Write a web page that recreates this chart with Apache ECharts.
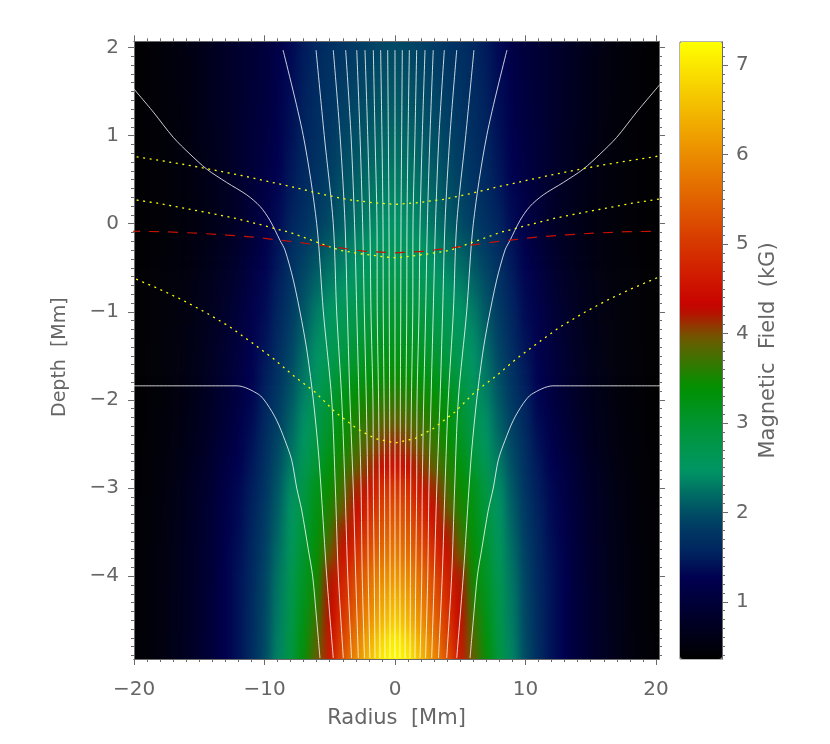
<!DOCTYPE html>
<html>
<head>
<meta charset="utf-8">
<title>Magnetic field</title>
<script src="https://cdn.jsdelivr.net/npm/echarts@6/dist/echarts.min.js"></script>
<style>
  html, body { margin: 0; padding: 0; background: #fff; }
  #main { width: 830px; height: 744px; }
</style>
</head>
<body>
<svg width="0" height="0" style="position:absolute">
  <filter id="soft" x="0" y="0" width="100%" height="100%" color-interpolation-filters="sRGB">
    <feGaussianBlur stdDeviation="5 8"></feGaussianBlur>
  </filter>
</svg>
<div id="main"></div>
<script>
// field strength table (kG), one row per depth, r = 0..22 Mm
var heatRadii = [0,1,2,3,4,5,6,7,8,9,10,11,12,13,14,15,16,17,18,19,20,21,22];
var heatDepths = [2.25,2,1.75,1.5,1.25,1,0.75,0.5,0.25,0,-0.25,-0.5,-0.75,-1,-1.25,-1.5,-1.75,-2,-2.25,-2.5,-2.75,-3,-3.25,-3.5,-3.75,-4,-4.25,-4.5,-4.75,-5,-5.25];
var heatRows = [
  [1.93,1.91,1.86,1.8,1.74,1.67,1.58,1.46,1.32,1.15,1.03,.94,.86,.78,.7,.63,.55,.49,.45,.41,.38,.37,.36],
  [1.95,1.93,1.88,1.82,1.76,1.69,1.6,1.48,1.33,1.16,1.04,.95,.87,.79,.7,.63,.55,.49,.45,.41,.38,.37,.36],
  [1.99,1.97,1.92,1.86,1.79,1.71,1.62,1.5,1.35,1.18,1.05,.95,.87,.79,.7,.62,.54,.49,.44,.41,.38,.37,.36],
  [2.04,2.02,1.96,1.9,1.83,1.74,1.64,1.52,1.37,1.2,1.06,.96,.87,.78,.69,.62,.54,.48,.44,.41,.38,.37,.36],
  [2.1,2.07,2.01,1.94,1.86,1.77,1.66,1.54,1.38,1.21,1.07,.97,.87,.78,.69,.61,.53,.48,.44,.41,.38,.37,.36],
  [2.17,2.14,2.07,1.99,1.9,1.8,1.68,1.55,1.4,1.23,1.08,.98,.87,.77,.68,.6,.52,.47,.43,.4,.38,.37,.36],
  [2.23,2.2,2.13,2.04,1.94,1.83,1.71,1.58,1.43,1.26,1.1,.99,.87,.77,.67,.59,.52,.47,.43,.4,.38,.37,.36],
  [2.3,2.27,2.2,2.1,1.99,1.87,1.74,1.61,1.46,1.28,1.12,.98,.86,.75,.66,.58,.51,.46,.43,.41,.38,.37,.36],
  [2.37,2.34,2.27,2.16,2.04,1.92,1.79,1.65,1.5,1.32,1.14,.98,.84,.73,.64,.57,.5,.46,.43,.41,.38,.37,.36],
  [2.45,2.42,2.35,2.23,2.1,1.97,1.85,1.7,1.55,1.35,1.15,.98,.82,.72,.63,.56,.5,.46,.43,.41,.38,.37,.36],
  [2.58,2.54,2.47,2.36,2.23,2.1,1.96,1.81,1.65,1.43,1.21,1.03,.86,.75,.65,.57,.51,.47,.43,.41,.38,.37,.36],
  [2.7,2.66,2.58,2.47,2.35,2.22,2.07,1.9,1.7,1.47,1.27,1.09,.9,.78,.67,.59,.52,.47,.44,.41,.38,.37,.36],
  [2.85,2.8,2.72,2.6,2.48,2.35,2.18,1.98,1.75,1.51,1.31,1.15,.95,.81,.7,.6,.53,.48,.44,.41,.38,.37,.36],
  [3,2.95,2.87,2.75,2.63,2.5,2.3,2.05,1.8,1.55,1.35,1.2,1,.85,.72,.62,.54,.48,.44,.41,.38,.37,.36],
  [3.13,3.09,3,2.88,2.74,2.58,2.38,2.12,1.85,1.6,1.39,1.22,1.03,.87,.74,.63,.55,.49,.44,.41,.38,.37,.36],
  [3.28,3.23,3.14,3.02,2.87,2.68,2.45,2.2,1.92,1.66,1.44,1.25,1.06,.9,.76,.65,.56,.49,.45,.42,.38,.37,.36],
  [3.45,3.4,3.31,3.2,3.05,2.82,2.55,2.28,1.98,1.73,1.5,1.27,1.09,.92,.78,.66,.57,.5,.45,.42,.38,.37,.36],
  [3.65,3.6,3.52,3.42,3.25,2.95,2.65,2.35,2.05,1.8,1.55,1.3,1.12,.95,.8,.68,.58,.5,.45,.42,.38,.37,.36],
  [3.88,3.82,3.7,3.55,3.35,3.05,2.75,2.43,2.12,1.86,1.6,1.35,1.17,.99,.83,.7,.6,.52,.46,.42,.38,.37,.36],
  [4.15,4.05,3.88,3.68,3.45,3.15,2.85,2.52,2.2,1.92,1.66,1.41,1.22,1.04,.87,.72,.62,.53,.47,.43,.38,.37,.36],
  [4.55,4.4,4.1,3.85,3.6,3.3,3,2.65,2.3,1.98,1.7,1.46,1.27,1.1,.91,.76,.65,.55,.48,.43,.39,.37,.36],
  [5,4.9,4.5,4.15,3.75,3.45,3.2,2.8,2.4,2.05,1.75,1.5,1.32,1.15,.95,.8,.68,.57,.49,.43,.39,.37,.36],
  [5.3,5.15,4.8,4.4,3.95,3.55,3.27,2.88,2.47,2.1,1.8,1.54,1.35,1.17,.97,.82,.69,.58,.5,.44,.39,.37,.36],
  [5.55,5.4,5.05,4.65,4.2,3.7,3.33,2.95,2.53,2.15,1.83,1.56,1.37,1.2,.98,.83,.7,.59,.5,.44,.39,.37,.36],
  [5.82,5.65,5.3,4.9,4.45,3.95,3.4,3.02,2.58,2.2,1.87,1.58,1.4,1.22,1,.84,.71,.6,.51,.45,.39,.37,.36],
  [6.1,5.95,5.6,5.2,4.7,4.2,3.45,3.1,2.65,2.25,1.9,1.6,1.42,1.25,1,.85,.72,.6,.52,.45,.39,.37,.36],
  [6.4,6.2,5.8,5.35,4.85,4.3,3.55,3.18,2.7,2.28,1.92,1.62,1.42,1.25,1.01,.86,.73,.61,.52,.45,.39,.37,.36],
  [6.7,6.45,6.02,5.55,5,4.38,3.7,3.25,2.75,2.3,1.93,1.63,1.42,1.25,1.01,.86,.73,.61,.52,.45,.39,.37,.36],
  [7.1,6.85,6.35,5.8,5.17,4.47,3.82,3.33,2.8,2.33,1.94,1.64,1.42,1.25,1.02,.87,.74,.62,.53,.46,.4,.37,.36],
  [7.4,7.1,6.55,6,5.35,4.58,3.92,3.42,2.87,2.36,1.96,1.66,1.42,1.25,1.02,.87,.74,.62,.53,.46,.4,.37,.36],
  [7.7,7.35,6.8,6.2,5.5,4.7,4,3.5,2.95,2.4,2,1.68,1.43,1.26,1.03,.88,.75,.63,.54,.46,.4,.37,.36]
];

// colour table of the bar
var cmapValues = [0.36,0.8,1.27,1.57,1.8,2.05,2.47,2.9,3.4,3.95,4.3,5,6,7.26];
var cmapColors = [[0,0,0],[0,0,40],[0,0,80],[0,38,95],[0,55,100],[0,85,100],[0,150,100],[0,150,60],[0,145,0],[110,90,0],[200,0,0],[215,55,0],[235,140,0],[255,255,0]];

// field lines, left half (mirrored for the right half)
var fieldDepths = [1.97,1,0,-1,-2,-3,-4,-4.93];
var fieldRadii = [
  [-8.58,-7.03,-6,-5.49,-4.85,-4.57,-4.34,-3.96],
  [-6.05,-5.42,-4.73,-4.47,-4.08,-3.83,-3.62,-3.33],
  [-4.73,-4.21,-3.83,-3.65,-3.45,-3.2,-3.01,-2.81],
  [-3.78,-3.37,-3.1,-2.93,-2.76,-2.6,-2.51,-2.34],
  [-2.93,-2.68,-2.48,-2.35,-2.2,-2.09,-2.05,-1.92],
  [-2.3,-2.09,-1.92,-1.84,-1.69,-1.66,-1.59,-1.53],
  [-1.66,-1.53,-1.38,-1.36,-1.26,-1.2,-1.18,-1.15],
  [-1.1,-1,-0.92,-0.9,-0.84,-0.8,-0.79,-0.77],
  [-0.56,-0.51,-0.46,-0.44,-0.41,-0.39,-0.38,-0.38],
  [0,0,0,0,0,0,0,0]
];
// the two outer lines
var flatLineR = [-20.3,-12.1,-10.47,-9.83,-9.07,-8.43,-7.92,-7.53,-7.15,-6.64,-6.31,-6,-5.75];
var flatLineZ = [-1.84,-1.84,-1.935,-2.04,-2.23,-2.46,-2.68,-3,-3.25,-3.7,-4,-4.5,-4.93];
var edgeLineR = [-20.3,-18.52,-16.99,-15.71,-14.43,-12.9,-11.36,-10.34,-9.58,-8.81,-8.43,-7.79,-7.15,-6.72,-6.26,-5.88,-5.67,-5.23,-4.73];
var edgeLineZ = [1.58,1.267,0.98,0.79,0.62,0.468,0.327,0.196,0.037,-0.19,-0.3,-0.64,-1.1,-1.47,-2,-2.57,-3,-4,-4.93];

// dotted yellow levels and the dashed red one, left half to r = 0
var yellow1R = [-20.3,-17.87,-15.84,-13.84,-11.8,-9.75,-7.79,-5.75,-3.7,-1.66,0];
var yellow1Z = [0.77,0.714,0.664,0.608,0.548,0.48,0.415,0.34,0.276,0.238,0.219];
var yellow2R = [-20.3,-18.2,-16.2,-14.2,-12.1,-10.1,-8,-6,-4.2,-2.68,-0.64,0];
var yellow2Z = [0.28,0.233,0.177,0.121,0.057,-0.019,-0.102,-0.209,-0.303,-0.34,-0.379,-0.385];
var yellow3R = [-20.3,-18.14,-16.35,-14.43,-12.64,-10.98,-9.32,-7.66,-6.13,-4.6,-2.94,-1.53,0];
var yellow3Z = [-0.6,-0.737,-0.861,-1.014,-1.172,-1.349,-1.531,-1.739,-1.909,-2.136,-2.324,-2.438,-2.488];
var redR = [-20.3,-17.76,-15.2,-12.9,-10.86,-7.79,-4.73,-3.2,-2.3,-0.64,0];
var redZ = [-0.085,-0.091,-0.107,-0.129,-0.152,-0.204,-0.265,-0.295,-0.314,-0.325,-0.33];

// ticks
var xMajor = [-20,-10,0,10,20];
var xMinor = [-19,-18,-17,-16,-15,-14,-13,-12,-11,-9,-8,-7,-6,-5,-4,-3,-2,-1,1,2,3,4,5,6,7,8,9,11,12,13,14,15,16,17,18,19];
var yMajor = [-4,-3,-2,-1,0,1,2];
var yMinor = [-4.9,-4.8,-4.7,-4.6,-4.5,-4.4,-4.3,-4.2,-4.1,-3.9,-3.8,-3.7,-3.6,-3.5,-3.4,-3.3,-3.2,-3.1,-2.9,-2.8,-2.7,-2.6,-2.5,-2.4,-2.3,-2.2,-2.1,-1.9,-1.8,-1.7,-1.6,-1.5,-1.4,-1.3,-1.2,-1.1,-0.9,-0.8,-0.7,-0.6,-0.5,-0.4,-0.3,-0.2,-0.1,0.1,0.2,0.3,0.4,0.5,0.6,0.7,0.8,0.9,1.1,1.2,1.3,1.4,1.5,1.6,1.7,1.8,1.9];
var barMajor = [1,2,3,4,5,6,7];
var barMinor = [0.4,0.5,0.6,0.7,0.8,0.9,1.1,1.2,1.3,1.4,1.5,1.6,1.7,1.8,1.9,2.1,2.2,2.3,2.4,2.5,2.6,2.7,2.8,2.9,3.1,3.2,3.3,3.4,3.5,3.6,3.7,3.8,3.9,4.1,4.2,4.3,4.4,4.5,4.6,4.7,4.8,4.9,5.1,5.2,5.3,5.4,5.5,5.6,5.7,5.8,5.9,6.1,6.2,6.3,6.4,6.5,6.6,6.7,6.8,6.9,7.1,7.2];

var fontName = "'DejaVu Sans ExtraLight', 'DejaVu Sans'";
var lineGray = "#6a6a6a";
var textGray = "#666";

function pairs(rs, zs) {
  return rs.map(function (r, i) { return [r, zs[i]]; });
}
// left half plus its mirror image
function mirrored(rs, zs) {
  var left = pairs(rs, zs);
  var right = left.map(function (p) { return [-p[0], p[1]]; }).reverse();
  return left.concat(right);
}

// full table, both sides of r = 0
var xCats = [];
for (var i = heatRadii.length - 1; i > 0; i--) xCats.push(String(-heatRadii[i]));
heatRadii.forEach(function (r) { xCats.push(String(r)); });
var heatData = [];
heatRows.forEach(function (row, j) {
  for (var k = 0; k < row.length; k++) {
    heatData.push([heatRadii.length - 1 + k, j, row[k]]);
    if (k > 0) heatData.push([heatRadii.length - 1 - k, j, row[k]]);
  }
});

// colormap to evenly spaced stops for visualMap
var cmapMin = cmapValues[0], cmapMax = cmapValues[cmapValues.length - 1];
var evenColors = [];
for (var s = 0; s <= 69; s++) {
  var v = cmapMin + (cmapMax - cmapMin) * s / 69;
  var n = 0;
  while (n < cmapValues.length - 2 && v > cmapValues[n + 1]) n++;
  var t = (v - cmapValues[n]) / (cmapValues[n + 1] - cmapValues[n]);
  var c = [0, 1, 2].map(function (q) {
    return Math.round(cmapColors[n][q] + (cmapColors[n + 1][q] - cmapColors[n][q]) * t);
  });
  evenColors.push("rgb(" + c.join(",") + ")");
}

function minusLabel(val) {
  return String(val).replace("-", "\u2212");
}

// one visible axis: major or minor tick set on one side of a grid
function makeAxis(gridIndex, pos, min, max, ticks, len, labels, margin) {
  return {
    type: "value",
    gridIndex: gridIndex,
    position: pos,
    min: min,
    max: max,
    zlevel: 1,
    silent: true,
    splitLine: { show: false },
    axisLine: { show: true, onZero: false, lineStyle: { color: lineGray, width: 1 } },
    axisTick: { show: true, length: len, customValues: ticks, lineStyle: { color: lineGray, width: 1 } },
    axisLabel: {
      show: !!labels,
      customValues: ticks,
      margin: margin || 8,
      fontFamily: fontName,
      fontSize: 20,
      color: textGray,
      formatter: minusLabel,
      hideOverlap: false,
      showMinLabel: true,
      showMaxLabel: true
    }
  };
}

var xAxes = [
  { type: "category", gridIndex: 0, show: false, data: xCats },
  makeAxis(1, "bottom", -20, 20.23, xMajor, 6, true, 21),
  makeAxis(1, "bottom", -20, 20.23, xMinor, 3),
  makeAxis(1, "top", -20, 20.23, xMajor, 6),
  makeAxis(1, "top", -20, 20.23, xMinor, 3),
  { type: "value", gridIndex: 2, show: false, min: 0, max: 1 }
];
var yAxes = [
  { type: "category", gridIndex: 0, show: false, inverse: true, data: heatDepths.map(String) },
  makeAxis(1, "left", -4.94, 2.07, yMajor, 6, true, 15),
  makeAxis(1, "left", -4.94, 2.07, yMinor, 3),
  makeAxis(1, "right", -4.94, 2.07, yMajor, 6),
  makeAxis(1, "right", -4.94, 2.07, yMinor, 3),
  makeAxis(2, "right", 0.36, 7.26, barMajor, 6, true, 14),
  makeAxis(2, "right", 0.36, 7.26, barMinor, 3)
];
function nameStyle(size, pad) {
  return {
    nameLocation: "middle",
    nameTextStyle: { fontFamily: fontName, fontSize: size, color: textGray, padding: pad }
  };
}
Object.assign(xAxes[1], nameStyle(21, 0), { name: "Radius  [Mm]", nameGap: 49 });
Object.assign(yAxes[1], nameStyle(19, [0, 14, 0, 0]), { name: "Depth  [Mm]", nameGap: 64 });
Object.assign(yAxes[5], nameStyle(21, 0), { name: "Magnetic  Field  (kG)", nameGap: 36 });

function lineSeries(data, color, type, width, smooth, opacity) {
  return {
    type: "line",
    xAxisIndex: 1,
    yAxisIndex: 1,
    data: data,
    zlevel: 1,
    z: 5,
    silent: true,
    animation: false,
    showSymbol: false,
    clip: true,
    smooth: smooth || false,
    lineStyle: { color: color, width: width || 1, type: type || "solid", cap: "butt", opacity: opacity || 1 }
  };
}

function whiteLine(data) {
  return lineSeries(data, "#fff", "solid", 1, 0.3, 0.8);
}

var series = [{
  type: "heatmap",
  xAxisIndex: 0,
  yAxisIndex: 0,
  data: heatData,
  zlevel: 0,
  silent: true,
  animation: false,
  progressive: 0,
  emphasis: { disabled: true }
}];
fieldRadii.forEach(function (rs) {
  series.push(whiteLine(pairs(rs, fieldDepths)));
  if (rs[0] !== 0) series.push(whiteLine(pairs(rs.map(function (r) { return -r; }), fieldDepths)));
});
series.push(whiteLine(pairs(flatLineR, flatLineZ)));
series.push(whiteLine(pairs(flatLineR.map(function (r) { return -r; }), flatLineZ)));
series.push(whiteLine(pairs(edgeLineR, edgeLineZ)));
series.push(whiteLine(pairs(edgeLineR.map(function (r) { return -r; }), edgeLineZ)));
series.push(lineSeries(mirrored(yellow1R, yellow1Z), "#ffff00", [2, 4.6], 1.3));
series.push(lineSeries(mirrored(yellow2R, yellow2Z), "#ffff00", [2, 4.6], 1.3));
series.push(lineSeries(mirrored(yellow3R, yellow3Z), "#ffff00", [2, 4.6], 1.3));
series.push(lineSeries(mirrored(redR, redZ), "#c81000", [10, 9], 1.2));

var myChart = echarts.init(document.getElementById("main"), null, { renderer: "canvas" });
var option = {
  animation: false,
  backgroundColor: "transparent",
  tooltip: { show: false },
  grid: [
    { left: 101.4, top: 13.8, width: 587.25, height: 683.55, zlevel: 0 },
    { left: 134, top: 41.3, width: 525, height: 617.7, zlevel: 1 },
    { left: 680, top: 42, width: 42, height: 617, zlevel: 1, show: true, borderColor: lineGray, borderWidth: 1, backgroundColor: "transparent" }
  ],
  xAxis: xAxes,
  yAxis: yAxes,
  visualMap: {
    type: "continuous",
    seriesIndex: 0,
    dimension: 2,
    min: cmapMin,
    max: cmapMax,
    left: 680,
    top: 42,
    padding: 0,
    itemWidth: 42,
    itemHeight: 617,
    calculable: false,
    hoverLink: false,
    zlevel: 1,
    z: 1,
    inRange: { color: evenColors }
  },
  series: series
};
myChart.setOption(option);

// the table is coarse: soften the bottom canvas layer only and cut it to the plot box
var heatLayer = document.querySelectorAll("#main canvas")[0];
heatLayer.style.filter = "url(#soft)";
heatLayer.style.clipPath = "inset(41.3px 171px 85px 134px)";
</script>
</body>
</html>
